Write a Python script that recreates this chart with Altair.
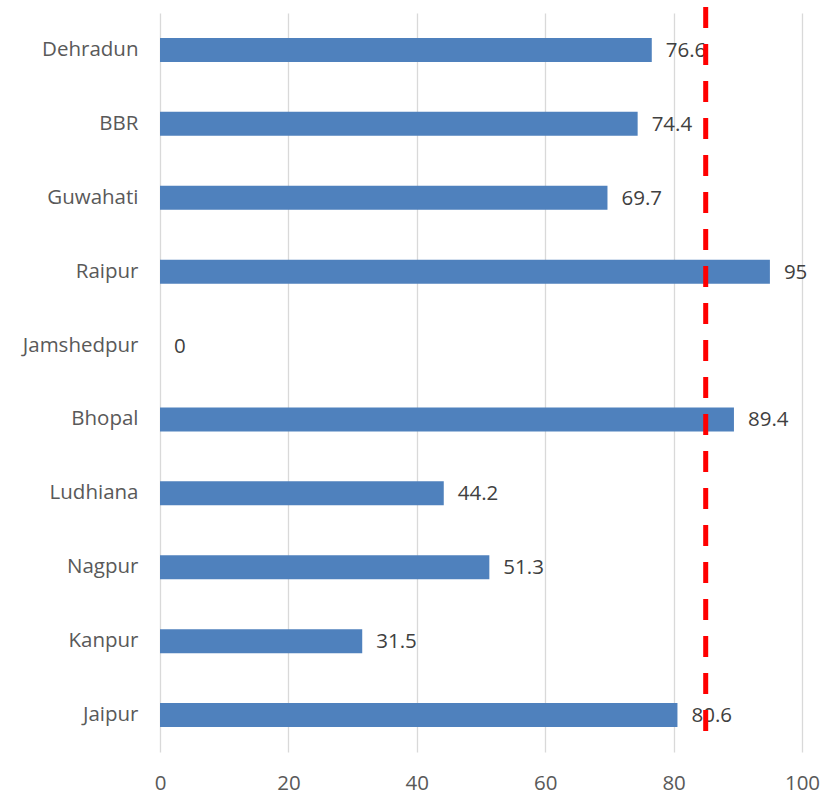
import altair as alt
import pandas as pd

cities = ["Dehradun", "BBR", "Guwahati", "Raipur", "Jamshedpur", "Bhopal",
          "Ludhiana", "Nagpur", "Kanpur", "Jaipur"]
values = [76.6, 74.4, 69.7, 95, 0, 89.4, 44.2, 51.3, 31.5, 80.6]
labels = ["76.6", "74.4", "69.7", "95", "0", "89.4", "44.2", "51.3", "31.5", "80.6"]
target = [85]
x_ticks = [0, 20, 40, 60, 80, 100]

df = pd.DataFrame({"city": cities, "value": values, "label": labels})
tdf = pd.DataFrame({"target": target})

FONT = "Open Sans"
FS = 20.5
W, H = 642, 739

xscale = alt.Scale(domain=[0, 100], nice=False)
yscale = alt.Scale(domain=cities, paddingInner=0.675, paddingOuter=0.3375)

bars = alt.Chart(df).mark_bar(color="#4F81BD").encode(
    x=alt.X("value:Q", scale=xscale,
            axis=alt.Axis(values=x_ticks, title=None, grid=True, gridColor="#D9D9D9",
                          gridWidth=1.3, domain=False, ticks=False, labelFont=FONT,
                          labelFontSize=FS, labelColor="#595959", labelPadding=21.5,
                          labelFlush=False, labelOverlap=False)),
    y=alt.Y("city:N", scale=yscale, sort=cities,
            axis=alt.Axis(title=None, domain=False, ticks=False, labelFont=FONT,
                          labelFontSize=FS, labelColor="#595959", labelPadding=22)),
)

text = alt.Chart(df).mark_text(align="left", baseline="middle", dx=14, dy=1, font=FONT,
                               fontSize=FS, color="#404040").encode(
    x=alt.X("value:Q", scale=xscale),
    y=alt.Y("city:N", scale=yscale, sort=cities),
    text="label:N",
)

rule = alt.Chart(tdf).mark_rule(color="#FF0000", strokeWidth=5,
                                strokeDash=[21, 16]).encode(
    x=alt.X("target:Q", scale=xscale),
    y=alt.value(-6),
    y2=alt.value(H - 13),
)

chart = alt.layer(bars, text, rule).properties(
    width=W, height=H,
    background="white",
    padding={"left": 160, "top": 13, "right": 34, "bottom": 43},
    autosize=alt.AutoSizeParams(type="none"),
).configure_view(stroke=None)

chart.save("out.html", embed_options={"renderer": "svg", "actions": False})
